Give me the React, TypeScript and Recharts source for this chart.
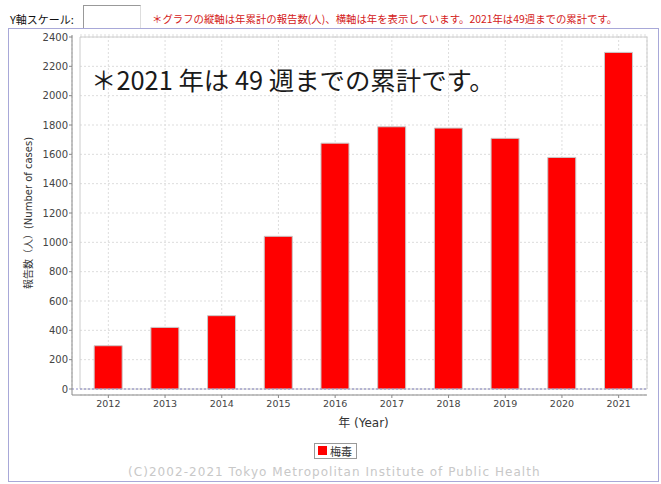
import React from 'react'
import { Bar, BarChart, CartesianGrid, Legend, ReferenceArea, ReferenceLine, XAxis, YAxis } from 'recharts'

const years = ['2012', '2013', '2014', '2015', '2016', '2017', '2018', '2019', '2020', '2021']
const cases = [295, 420, 500, 1041, 1676, 1788, 1779, 1709, 1579, 2295]
const yTicks = [0, 200, 400, 600, 800, 1000, 1200, 1400, 1600, 1800, 2000, 2200, 2400]
const seriesName = '梅毒'

const data = years.map((y, i) => ({ year: y, value: cases[i] }))

const cjk = '"Noto Sans CJK JP", "DejaVu Sans", sans-serif'
const latin = '"DejaVu Sans", "Noto Sans CJK JP", sans-serif'

const YLabel = (props: any) => {
  const vb = props.viewBox
  const x = vb.x + 28
  const y = vb.y + 2 + (vb.height - 8) / 2
  return (
    <text x={x} y={y} transform={`rotate(-90 ${x} ${y})`} textAnchor="middle" dominantBaseline="central"
      fontSize={10} fill="#333" fontFamily={latin}>
      報告数（人）(Number of cases)
    </text>
  )
}

const XLabel = (props: any) => {
  const vb = props.viewBox
  const x = vb.x + 8 + (vb.width - 8) / 2
  const y = vb.y + 28
  return (
    <text x={x} y={y} textAnchor="middle" dominantBaseline="central" fontSize={12} fill="#333" fontFamily={latin}>
      年 (Year)
    </text>
  )
}

const LegendBox = () => (
  <div style={{
    display: 'inline-flex', alignItems: 'center', border: '1px solid #999', height: 14,
    padding: '0 4px 0 3px', background: '#fff', fontFamily: cjk, fontSize: 11, color: '#333'
  }}>
    <span style={{ width: 9, height: 9, background: '#ff0000', marginRight: 3, display: 'inline-block' }} />
    {seriesName}
  </div>
)

const App = () => {
  return (
    <div style={{ position: 'absolute', left: 0, top: 0, width: 661, height: 484, background: '#fff' }}>
      <div style={{ position: 'absolute', left: 10, top: 11, fontFamily: cjk, fontSize: 11, color: '#111', lineHeight: '16px' }}>
        Y軸スケール:
      </div>
      <div style={{
        position: 'absolute', left: 83, top: 5, width: 56, height: 22, background: '#fff',
        borderTop: '1px solid #999', borderLeft: '1px solid #999', borderRight: '1px solid #ddd', borderBottom: '1px solid #ddd'
      }} />
      <div style={{ position: 'absolute', left: 152, top: 11, fontFamily: cjk, fontSize: 10.4, color: '#d42020', lineHeight: '16px', whiteSpace: 'nowrap' }}>
        ＊グラフの縦軸は年累計の報告数(人)、横軸は年を表示しています。2021年は49週までの累計です。
      </div>
      <div style={{ position: 'absolute', left: 8, top: 28, width: 649, height: 452, border: '1px solid #a8a8d8' }} />

      <div style={{ position: 'absolute', left: 0, top: 0 }}>
        <BarChart width={661} height={484} data={data} barCategoryGap="25%"
          margin={{ top: 35, right: 14, bottom: 0, left: 0 }}>
          <CartesianGrid x={80} y={36} width={567} height={353} stroke="#dddddd" strokeDasharray="2 2" />
          <ReferenceArea x1="2012" x2="2021" y1={0} y2={2400} fill="none" stroke="#cccccc" ifOverflow="visible" />
          <XAxis dataKey="year" height={89} padding={{ left: 8, right: 0 }} stroke="#888" tickSize={3} tickMargin={2}
            tick={{ fontSize: 9.5, fill: '#444', fontFamily: latin }} label={<XLabel />} />
          <YAxis width={72} domain={[0, 2400]} ticks={yTicks} padding={{ top: 2, bottom: 6 }} stroke="#888"
            tickSize={3} tickMargin={1} interval={0}
            tick={{ fontSize: 10, fill: '#444', fontFamily: latin }} label={<YLabel />} />
          <Bar dataKey="value" name={seriesName} fill="#ff0000" stroke="#c8c8c8" strokeWidth={1} isAnimationActive={false} />
          <ReferenceLine y={0} stroke="#8c8cc8" strokeDasharray="2 2" />
          <Legend layout="horizontal" verticalAlign="middle" align="center" content={<LegendBox />}
            wrapperStyle={{ top: 441, left: 314, width: 'auto', height: 'auto' }} />
        </BarChart>
      </div>

      <div style={{ position: 'absolute', left: 91, top: 66, fontFamily: cjk, fontSize: 25.4, color: '#1a1a1a', lineHeight: '26px', whiteSpace: 'nowrap' }}>
        ＊2021 年は 49 週までの累計です。
      </div>
      <div style={{ position: 'absolute', left: 128, top: 464, fontFamily: latin, fontSize: 12, letterSpacing: 1.05, color: '#c8c8c8', lineHeight: '16px', whiteSpace: 'nowrap' }}>
        (C)2002-2021 Tokyo Metropolitan Institute of Public Health
      </div>
    </div>
  )
}

export default App
